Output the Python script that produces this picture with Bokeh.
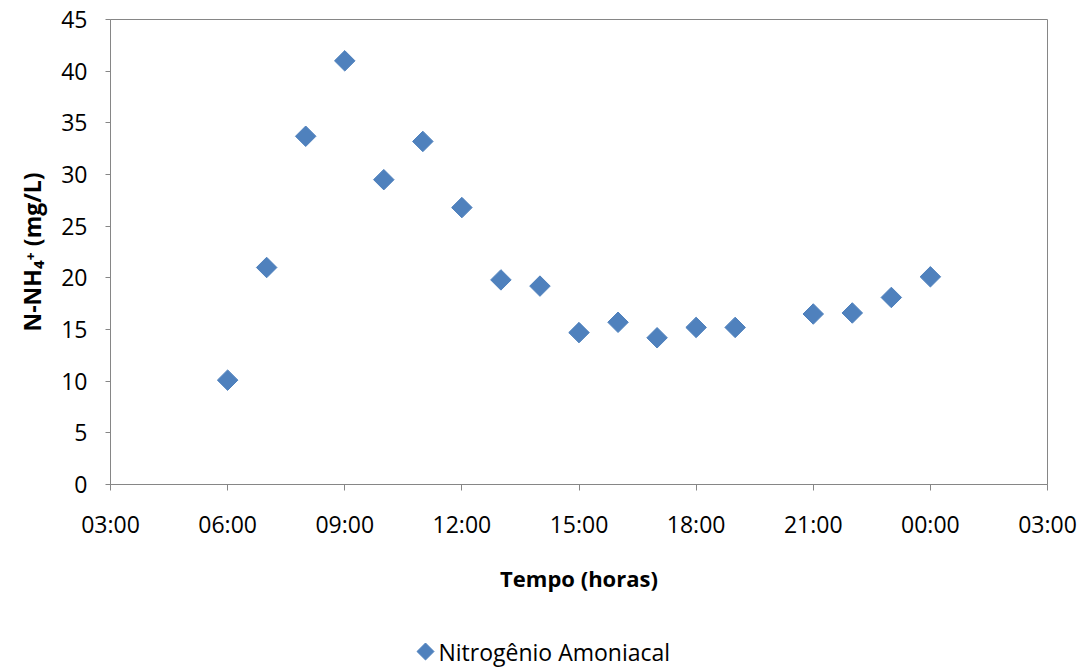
from bokeh.plotting import figure
from bokeh.layouts import column
from bokeh.models import Range1d, FixedTicker
from bokeh.core.properties import value
from bokeh.embed import file_html
from bokeh.resources import INLINE
import math

# Sampling hour (hours after midnight of day 1; 24 = 00:00 of next day)
hours = [6, 7, 8, 9, 10, 11, 12, 13, 14, 15, 16, 17, 18, 19, 21, 22, 23, 24]
# Ammoniacal nitrogen concentration, mg/L
nitrogen = [10.1, 21.0, 33.7, 41.0, 29.5, 33.2, 26.8, 19.8, 19.2, 14.7,
            15.7, 14.2, 15.2, 15.2, 16.5, 16.6, 18.1, 20.1]

x_ticks = [3, 6, 9, 12, 15, 18, 21, 24, 27]
x_tick_labels = ["03:00", "06:00", "09:00", "12:00", "15:00", "18:00",
                 "21:00", "00:00", "03:00"]
y_ticks = [0, 5, 10, 15, 20, 25, 30, 35, 40, 45]
series_name = "Nitrogênio Amoniacal"

FONT = "Open Sans"
AXIS_GRAY = "#868686"
BLUE = "#4F81BD"
W = 1084
MAIN_H = 620
KEY_H = 48
LEFT, RIGHT, TOP, BOTTOM = 110, 37, 19, 136

p = figure(width=W, height=MAIN_H, output_backend="svg", toolbar_location=None,
           x_range=Range1d(3, 27), y_range=Range1d(0, 45),
           min_border_left=LEFT, min_border_right=RIGHT, min_border_top=TOP,
           min_border_bottom=BOTTOM)

p.background_fill_color = "white"
p.border_fill_color = "white"
p.outline_line_color = AXIS_GRAY
p.outline_line_width = 1
p.xgrid.visible = False
p.ygrid.visible = False

p.scatter(hours, nitrogen, marker="square", size=14.5, angle=math.pi / 4,
          fill_color=BLUE, line_color=BLUE)

# x axis
xa = p.xaxis[0]
xa.ticker = FixedTicker(ticks=x_ticks)
xa.major_label_overrides = {t: lab for t, lab in zip(x_ticks, x_tick_labels)}
xa.axis_label = "Tempo (horas)"
xa.axis_label_text_font = FONT
xa.axis_label_text_font_style = "bold"
xa.axis_label_text_font_size = "22px"
xa.axis_label_text_color = "black"
xa.axis_label_standoff = 20
xa.major_label_text_font = FONT
xa.major_label_text_font_size = "23px"
xa.major_label_text_color = "black"
xa.major_label_standoff = 17
xa.axis_line_color = AXIS_GRAY
xa.major_tick_line_color = AXIS_GRAY
xa.major_tick_in = 0
xa.major_tick_out = 6
xa.minor_tick_line_color = None

# y axis
ya = p.yaxis[0]
ya.ticker = FixedTicker(ticks=y_ticks)
ya.axis_label = "N-NH\u2084\u207a (mg/L)"
ya.axis_label_text_font = FONT
ya.axis_label_text_font_style = "bold"
ya.axis_label_text_font_size = "23px"
ya.axis_label_text_color = "black"
ya.axis_label_standoff = 10
ya.major_label_text_font = FONT
ya.major_label_text_font_size = "23px"
ya.major_label_text_color = "black"
ya.major_label_standoff = 18
ya.axis_line_color = AXIS_GRAY
ya.major_tick_line_color = AXIS_GRAY
ya.major_tick_in = 0
ya.major_tick_out = 5
ya.minor_tick_line_color = None

# series key strip under the chart; its frame lines up with the chart frame,
# so the x range is expressed in page pixels
key = figure(width=W, height=KEY_H, output_backend="svg", toolbar_location=None,
             x_range=Range1d(LEFT, W - RIGHT), y_range=Range1d(0, KEY_H),
             x_axis_location=None, y_axis_location=None,
             min_border_left=LEFT, min_border_right=RIGHT,
             min_border_top=0, min_border_bottom=0, outline_line_color=None)
key.xgrid.visible = False
key.ygrid.visible = False
key.background_fill_color = "white"
key.border_fill_color = "white"

KEY_X, KEY_Y = 425, 17
key.scatter([KEY_X], [KEY_Y], marker="square", size=12, angle=math.pi / 4,
            fill_color=BLUE, line_color=BLUE)
key.text([KEY_X + 13], [KEY_Y], text=[series_name], text_font=value(FONT),
         text_font_size="23px", text_color="black", text_align="left",
         text_baseline="middle")

layout = column(p, key, spacing=0)
open("out.html", "w").write(file_html(layout, INLINE))
